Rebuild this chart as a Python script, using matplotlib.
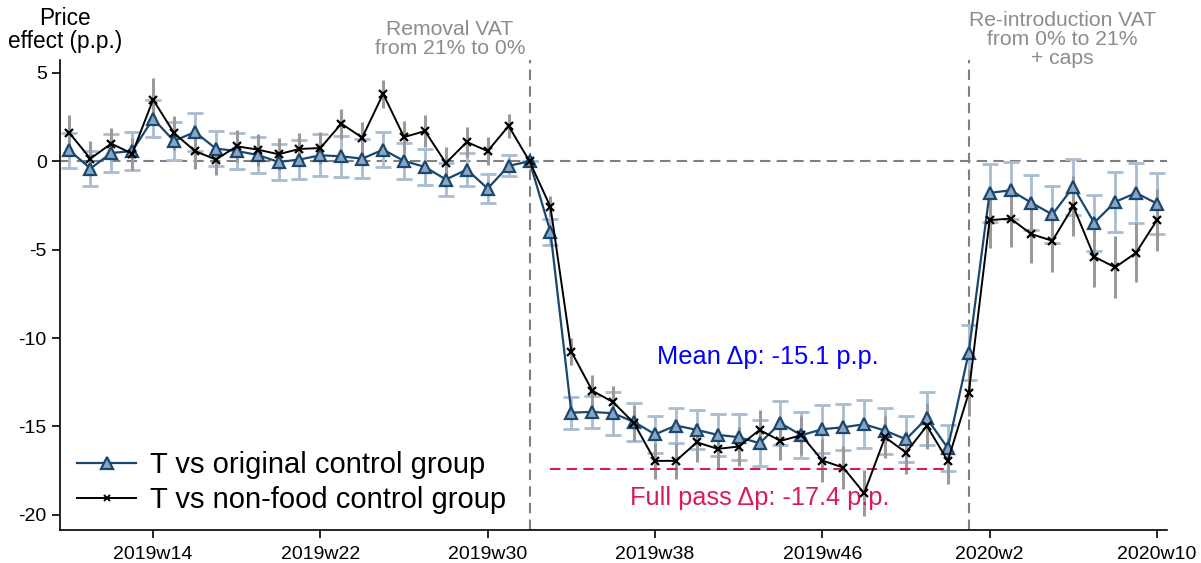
import numpy as np
import matplotlib.pyplot as plt
from matplotlib.lines import Line2D

plt.rcParams['font.family'] = ['Liberation Sans', 'DejaVu Sans']
plt.rcParams['axes.unicode_minus'] = False

# weekly index: 2019w10 .. 2020w10 (2020wk -> 52 + k)
weeks = np.arange(10, 63)
tick_pos = [14, 22, 30, 38, 46, 54, 62]
tick_labels = ['2019w14', '2019w22', '2019w30', '2019w38', '2019w46', '2020w2', '2020w10']

orig = [0.62, -0.41, 0.47, 0.58, 2.41, 1.15, 1.66, 0.72, 0.58, 0.36,
        -0.04, 0.10, 0.34, 0.28, 0.15, 0.66, 0.02, -0.32, -1.03, -0.47,
        -1.54, -0.26, 0.0, -3.99, -14.22, -14.18, -14.26, -14.75, -15.45, -14.95,
        -15.2, -15.48, -15.61, -15.95, -14.82, -15.5, -15.16, -15.05, -14.88, -15.24,
        -15.73, -14.54, -16.23, -10.83, -1.79, -1.64, -2.35, -3.01, -1.45, -3.48,
        -2.3, -1.79, -2.39]
orig_ci = [1.0, 1.0, 1.1, 1.1, 1.05, 1.1, 1.1, 1.0, 1.0, 1.0,
           1.0, 1.1, 1.2, 1.15, 1.1, 1.0, 1.0, 1.0, 0.95, 0.95,
           0.8, 0.6, 0.0, 0.75, 0.9, 0.9, 1.2, 1.05, 1.05, 1.0,
           1.1, 1.2, 1.3, 1.3, 1.25, 1.3, 1.35, 1.3, 1.35, 1.3,
           1.3, 1.5, 1.3, 1.57, 1.66, 1.6, 1.56, 1.6, 1.6, 1.6,
           1.7, 1.7, 1.73]

nonfood = [1.6, 0.15, 1.0, 0.43, 3.49, 1.6, 0.58, 0.1, 0.85, 0.66,
           0.4, 0.7, 0.75, 2.13, 1.34, 3.82, 1.37, 1.71, -0.1, 1.09,
           0.58, 2.0, 0.0, -2.58, -10.77, -12.98, -13.63, -14.82, -16.95, -16.95,
           -15.9, -16.27, -16.14, -15.2, -15.82, -15.5, -16.93, -17.33, -18.78, -15.61,
           -16.48, -14.97, -16.95, -13.12, -3.33, -3.24, -4.12, -4.5, -2.54, -5.4,
           -6.0, -5.18, -3.33]
nonfood_ci = [1.0, 1.0, 0.9, 0.9, 1.2, 0.95, 1.0, 0.9, 0.9, 0.9,
              0.9, 0.9, 0.9, 0.85, 0.9, 0.8, 0.9, 0.9, 0.9, 0.85,
              0.8, 0.7, 0.0, 0.6, 0.75, 0.9, 0.9, 1.0, 1.0, 1.0,
              1.1, 1.1, 1.1, 1.1, 1.1, 1.1, 1.2, 1.2, 1.3, 1.2,
              1.2, 1.3, 1.3, 1.3, 1.6, 1.6, 1.66, 1.75, 1.7, 1.7,
              1.76, 1.67, 1.77]

removal_week = 32
reintro_week = 53
full_pass = -17.4
mean_dp = -15.1

navy = '#1a476f'
fill = '#8ba6c0'
ci_blue = '#a9bcd0'
ci_gray = '#9a9a9a'
dash_gray = '#808080'

fig = plt.figure(figsize=(12.01, 5.63), dpi=100)
ax = fig.add_axes([0.05, 0.059, 0.922, 0.835])

ax.axhline(0, color=dash_gray, ls=(0, (5, 3)), lw=1.5, zorder=1)
ax.axvline(removal_week, color=dash_gray, ls=(0, (5, 3)), lw=1.5, zorder=1)
ax.axvline(reintro_week, color=dash_gray, ls=(0, (5, 3)), lw=1.5, zorder=1)

ax.errorbar(weeks, orig, yerr=orig_ci, fmt='none', ecolor=ci_blue,
            elinewidth=2, capsize=6, capthick=2, zorder=2)
ax.errorbar(weeks, nonfood, yerr=nonfood_ci, fmt='none', ecolor=ci_gray,
            elinewidth=2.2, capsize=0, zorder=2)

ax.plot(weeks, orig, color=navy, lw=1.6, marker='^', ms=9,
        mfc=fill, mec=navy, mew=1.6, zorder=4)
ax.plot(weeks, nonfood, color='black', lw=1.4, marker='x', ms=6,
        mew=1.6, zorder=5)

ax.hlines(full_pass, 33, 52, colors='#d81b60', linestyles=(0, (5, 3)), lw=1.5, zorder=3)
ax.text(43.4, -11.1, 'Mean \u0394p: %.1f p.p.' % mean_dp, color='#0000ff',
        fontsize=18.3, ha='center', va='center')
ax.text(43.0, -19.05, 'Full pass \u0394p: %.1f p.p.' % full_pass, color='#d81b60',
        fontsize=18.3, ha='center', va='center')

ax.text(31.8, 5.85, 'Removal VAT\nfrom 21% to 0%', color='#8c8c8c', fontsize=15.2,
        ha='right', va='bottom', multialignment='center', linespacing=0.98)
ax.text(53.0, 5.3, 'Re-introduction VAT\nfrom 0% to 21%\n+ caps', color='#8c8c8c',
        fontsize=15.2, ha='left', va='bottom', multialignment='center', linespacing=0.98)
fig.text(0.054, 0.905, 'Price\neffect (p.p.)', fontsize=16.3, ha='center', va='bottom',
         multialignment='center', linespacing=1.05)

ax.set_xlim(9.55, 62.5)
ax.set_ylim(-20.85, 5.75)
ax.set_xticks(tick_pos)
ax.set_xticklabels(tick_labels)
ax.set_yticks([5, 0, -5, -10, -15, -20])
ax.tick_params(axis='both', labelsize=14, length=6, width=1.2, direction='out')
ax.tick_params(axis='x', pad=6)
for s in ['top', 'right']:
    ax.spines[s].set_visible(False)
for s in ['left', 'bottom']:
    ax.spines[s].set_linewidth(1.2)

handles = [Line2D([], [], color=navy, lw=1.6, marker='^', ms=8, mfc=fill, mec=navy, mew=1.6),
           Line2D([], [], color='black', lw=1.4, marker='x', ms=4, mew=1.4)]
ax.legend(handles, ['T vs original control group', 'T vs non-food control group'],
          loc='lower left', bbox_to_anchor=(0.0045, 0.0085), frameon=False, fontsize=21,
          handlelength=2.05, handletextpad=0.45, labelspacing=0.25, borderaxespad=0.0)

fig.savefig('out.png', dpi=100)
